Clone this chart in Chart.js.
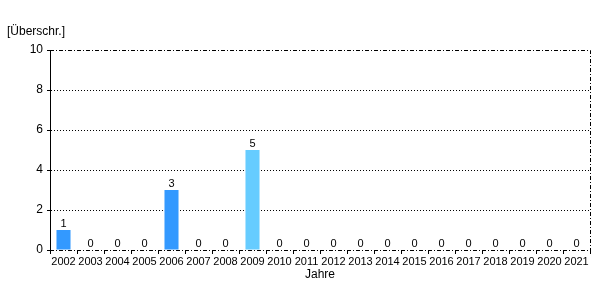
<!DOCTYPE html>
<html>
<head>
<meta charset="utf-8">
<script src="https://cdn.jsdelivr.net/npm/chart.js@4/dist/chart.umd.min.js"></script>
<style>
  html, body { margin: 0; padding: 0; background: #fff; }
  #wrap { width: 600px; height: 300px; }
</style>
</head>
<body>
<div id="wrap"><canvas id="chart" width="600" height="300"></canvas></div>
<script>
const jahre = ['2002','2003','2004','2005','2006','2007','2008','2009','2010','2011',
               '2012','2013','2014','2015','2016','2017','2018','2019','2020','2021'];
const ueberschreitungen = [1,0,0,0,3,0,0,5,0,0,0,0,0,0,0,0,0,0,0,0];
const balkenFarben = ['#3399ff','#3399ff','#3399ff','#3399ff','#3399ff','#3399ff','#3399ff',
                      '#66ccff','#66ccff','#66ccff','#66ccff','#66ccff','#66ccff','#66ccff',
                      '#66ccff','#66ccff','#66ccff','#66ccff','#66ccff','#66ccff'];
const yTicks = [0, 2, 4, 6, 8, 10];

const schrift = 'Liberation Sans, Arial, sans-serif';

// Rahmen oben/rechts/unten strichpunktiert + Titel + Werte ueber den Balken
const extras = {
  id: 'extras',
  afterDraw(chart) {
    const ctx = chart.ctx;
    const a = chart.chartArea;
    ctx.save();
    ctx.strokeStyle = '#000';
    ctx.lineWidth = 1;
    ctx.setLineDash([4, 2, 1, 2]);
    ctx.beginPath();
    ctx.moveTo(a.left, a.top + 0.5);
    ctx.lineTo(a.right + 0.5, a.top + 0.5);
    ctx.lineTo(a.right + 0.5, a.bottom);
    ctx.stroke();
    ctx.beginPath();
    ctx.moveTo(a.left, a.bottom + 0.5);
    ctx.lineTo(a.right + 0.5, a.bottom + 0.5);
    ctx.stroke();
    ctx.setLineDash([]);

    ctx.fillStyle = '#000';
    ctx.font = '12px ' + schrift;
    ctx.textAlign = 'left';
    ctx.textBaseline = 'middle';
    ctx.fillText('[Überschr.]', 7, 32);

    ctx.font = '11px ' + schrift;
    ctx.textAlign = 'center';
    ctx.textBaseline = 'bottom';
    const meta = chart.getDatasetMeta(0);
    meta.data.forEach((bar, i) => {
      ctx.fillText(String(ueberschreitungen[i]), bar.x, bar.y - 1);
    });
    ctx.restore();
  }
};

new Chart(document.getElementById('chart'), {
  type: 'bar',
  data: {
    labels: jahre,
    datasets: [{
      data: ueberschreitungen,
      backgroundColor: balkenFarben,
      borderWidth: 0,
      categoryPercentage: 1,
      barPercentage: 0.52
    }]
  },
  options: {
    responsive: false,
    animation: false,
    layout: { padding: { top: 50, right: 10, left: 0, bottom: 18 } },
    plugins: {
      legend: { display: false },
      tooltip: { enabled: false }
    },
    scales: {
      x: {
        grid: {
          offset: true,
          drawOnChartArea: false,
          drawTicks: true,
          tickLength: 4,
          color: '#000'
        },
        border: { display: false },
        ticks: {
          color: '#000',
          font: { family: schrift, size: 11 },
          maxRotation: 0,
          autoSkip: false,
          padding: 1
        },
        title: {
          display: true,
          text: 'Jahre',
          color: '#000',
          font: { family: schrift, size: 12 },
          padding: { top: 0, bottom: 0 }
        },
        afterFit(scale) { scale.height = 32; }
      },
      y: {
        min: 0,
        max: 10,
        afterBuildTicks(scale) { scale.ticks = yTicks.map(v => ({ value: v })); },
        grid: {
          color: ctx => (ctx.tick && ctx.tick.value > 0 && ctx.tick.value < 10) ? '#000' : 'rgba(0,0,0,0)',
          tickColor: '#000',
          tickBorderDash: [],
          drawTicks: true,
          tickLength: 3,
          lineWidth: 1
        },
        border: { display: true, color: '#000', dash: [1, 2] },
        ticks: {
          color: '#000',
          font: { family: schrift, size: 12 },
          padding: 4
        },
        afterFit(scale) { scale.width = 50; }
      }
    }
  },
  plugins: [extras]
});
</script>
</body>
</html>
